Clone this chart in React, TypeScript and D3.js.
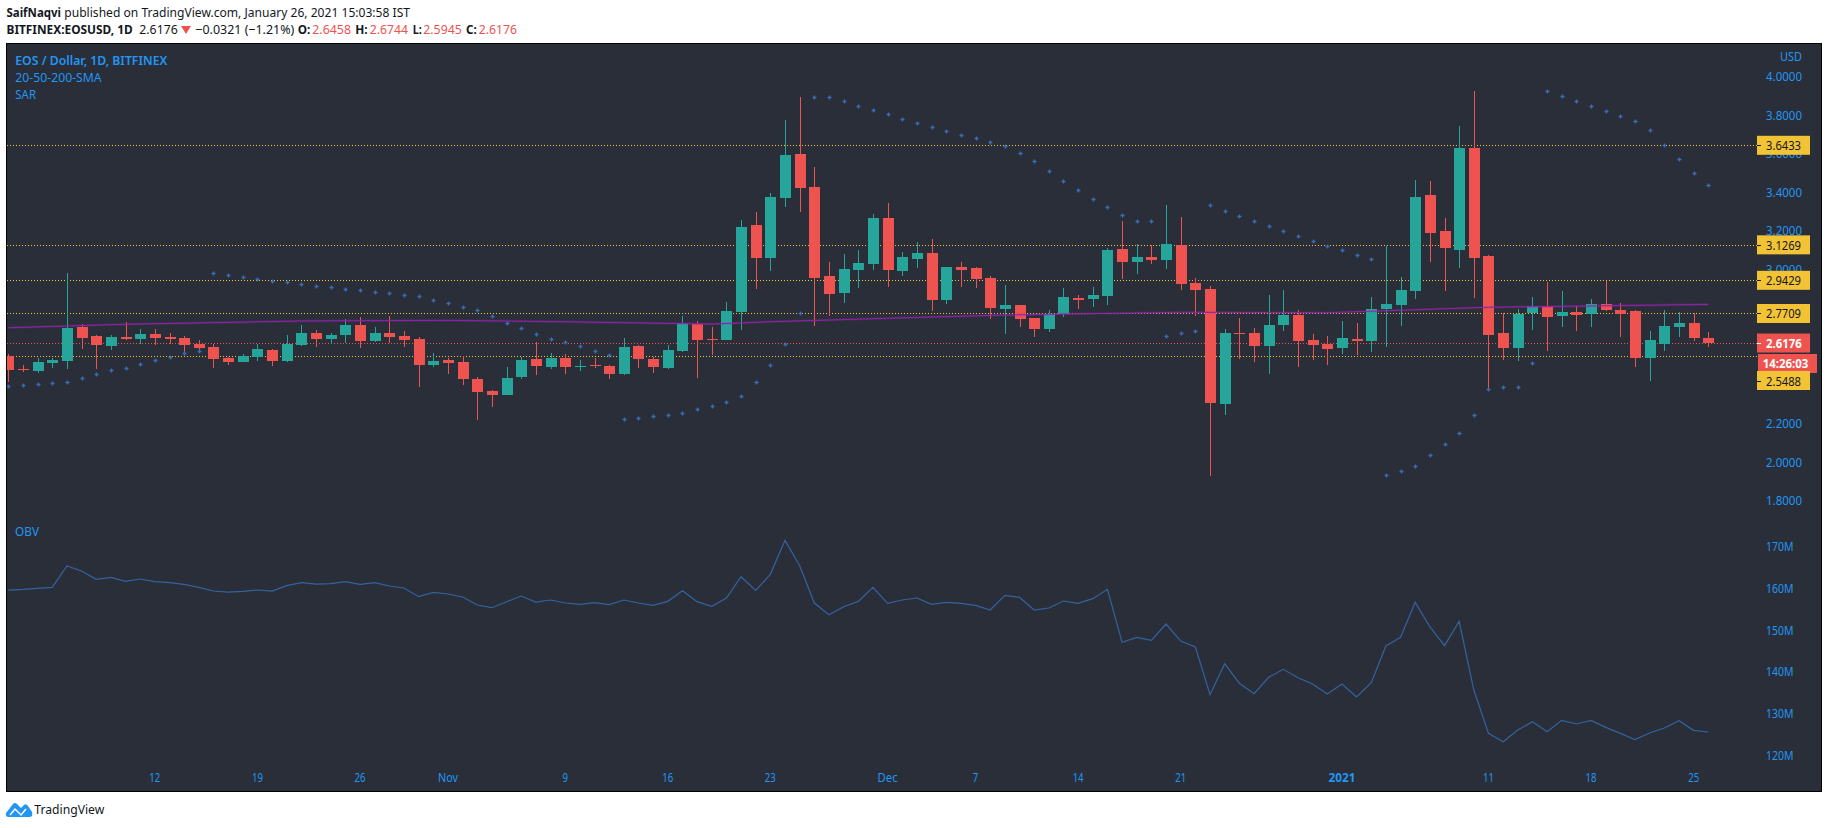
import React from "react";
import * as d3 from "d3";

const opens = [2.550,2.483,2.473,2.514,2.524,2.701,2.654,2.602,2.649,2.639,2.664,2.649,2.644,2.613,2.597,2.540,2.519,2.545,2.581,2.524,2.607,2.670,2.639,2.659,2.711,2.628,2.670,2.654,2.639,2.504,
2.530,2.519,2.431,2.369,2.348,2.442,2.535,2.493,2.540,2.493,2.504,2.499,2.457,2.602,2.535,2.488,2.576,2.716,2.639,2.633,2.779,3.230,3.059,3.370,3.598,3.427,2.965,2.877,2.997,3.028,
3.266,2.991,3.053,3.084,2.841,3.012,3.007,2.955,2.794,2.815,2.747,2.690,2.768,2.851,2.846,2.861,3.105,3.038,3.064,3.048,3.126,2.929,2.898,2.301,2.669,2.669,2.602,2.711,2.763,2.633,
2.613,2.592,2.639,2.628,2.794,2.815,2.888,3.385,3.199,3.100,3.629,3.069,2.670,2.592,2.773,2.810,2.758,2.779,2.768,2.820,2.789,2.784,2.540,2.613,2.701,2.722,2.6458];
const highs = [2.561,2.504,2.538,2.540,2.981,2.716,2.659,2.659,2.727,2.690,2.690,2.670,2.654,2.633,2.613,2.547,2.561,2.613,2.587,2.659,2.711,2.685,2.670,2.742,2.753,2.701,2.758,2.680,2.649,2.566,
2.540,2.550,2.442,2.374,2.493,2.545,2.623,2.566,2.561,2.530,2.540,2.504,2.644,2.607,2.545,2.607,2.758,2.732,2.701,2.831,3.256,3.297,3.396,3.775,3.894,3.531,3.038,3.080,3.100,3.287,
3.344,3.090,3.141,3.157,3.012,3.038,3.012,2.965,2.918,2.815,2.747,2.789,2.903,2.867,2.908,3.110,3.250,3.129,3.126,3.333,3.271,2.955,2.913,2.690,2.747,2.695,2.867,2.892,2.789,2.664,
2.654,2.732,2.722,2.856,3.121,2.960,3.463,3.458,3.266,3.743,3.925,3.074,2.773,2.794,2.856,2.934,2.888,2.810,2.846,2.939,2.825,2.789,2.680,2.789,2.777,2.771,2.6744];
const lows = [2.416,2.467,2.462,2.488,2.483,2.587,2.483,2.581,2.633,2.613,2.607,2.613,2.571,2.576,2.488,2.504,2.519,2.524,2.498,2.519,2.602,2.597,2.613,2.618,2.592,2.623,2.618,2.597,2.390,2.493,
2.457,2.400,2.218,2.286,2.348,2.431,2.452,2.483,2.457,2.473,2.488,2.431,2.452,2.488,2.462,2.483,2.571,2.436,2.556,2.633,2.685,2.898,2.991,3.323,3.297,2.706,2.758,2.825,2.903,2.997,
2.908,2.965,3.007,2.784,2.820,2.908,2.903,2.742,2.664,2.701,2.649,2.675,2.752,2.794,2.804,2.815,2.950,2.975,3.027,3.001,2.892,2.758,1.928,2.244,2.535,2.519,2.457,2.680,2.493,2.529,
2.504,2.561,2.556,2.571,2.597,2.706,2.846,3.038,2.888,3.007,2.851,2.374,2.530,2.524,2.685,2.576,2.701,2.680,2.701,2.784,2.649,2.493,2.421,2.576,2.649,2.628,2.5945];
const closes = [2.478,2.478,2.519,2.530,2.696,2.644,2.607,2.649,2.639,2.664,2.644,2.639,2.607,2.592,2.535,2.519,2.550,2.587,2.524,2.613,2.670,2.639,2.659,2.711,2.628,2.670,2.649,2.633,2.504,2.524,
2.514,2.431,2.364,2.348,2.436,2.530,2.499,2.540,2.493,2.499,2.499,2.457,2.597,2.535,2.493,2.582,2.722,2.633,2.633,2.784,3.220,3.059,3.375,3.593,3.422,2.955,2.872,3.002,3.033,3.266,
2.996,3.064,3.084,2.841,3.012,2.996,2.950,2.799,2.815,2.742,2.690,2.768,2.856,2.841,2.867,3.100,3.038,3.064,3.048,3.131,2.924,2.892,2.306,2.669,2.664,2.602,2.711,2.763,2.628,2.607,
2.587,2.644,2.628,2.794,2.820,2.893,3.375,3.188,3.111,3.629,3.059,2.659,2.592,2.768,2.810,2.753,2.779,2.763,2.820,2.789,2.768,2.540,2.633,2.706,2.722,2.644,2.6176];
const sar = [2.393,2.398,2.403,2.408,2.413,2.434,2.455,2.476,2.486,2.507,2.528,2.543,2.564,2.575,
2.979,2.969,2.958,2.948,2.938,2.932,2.922,2.912,2.906,2.896,2.891,2.881,2.875,2.865,2.860,2.839,2.823,
2.803,2.787,2.756,2.720,2.694,2.663,2.637,2.621,2.600,2.574,2.554,
2.222,2.227,2.237,2.243,2.254,2.274,2.290,2.310,2.341,2.414,2.502,2.611,2.771,
3.892,3.892,3.871,3.845,3.825,
3.804,3.778,3.757,3.736,3.716,3.695,3.679,3.659,3.638,3.602,3.560,3.508,3.456,
3.409,3.363,3.321,3.280,3.249,3.249,
2.652,2.668,2.678,
3.332,3.300,3.274,3.249,3.223,3.197,3.171,3.145,3.119,3.098,3.072,3.052,
1.931,1.952,1.978,2.035,2.092,2.149,2.242,2.377,2.388,2.388,2.512,
3.923,3.897,3.871,3.845,3.819,3.794,3.768,3.721,3.643,3.570,3.498,3.436];
const smaIdx = [0,8,20,30,36,43,48,52,60,67,72,80,90,101,116];
const smaVal = [2.697,2.715,2.732,2.735,2.730,2.722,2.716,2.728,2.746,2.761,2.768,2.777,2.775,2.803,2.818];
const obv = [159.6,159.76,160.0,160.24,165.36,164.16,162.16,162.64,161.68,162.24,161.6,161.36,160.96,160.24,159.36,159.12,159.28,159.6,159.36,160.64,161.36,161.04,161.12,161.6,160.96,161.36,160.56,160.08,158.0,159.04,
158.64,157.92,156.0,155.36,156.8,158.16,156.72,157.2,156.48,156.16,156.56,156.08,157.2,156.48,155.92,156.88,159.44,156.8,155.68,157.68,162.8,159.52,163.36,171.52,165.44,156.48,153.68,155.6,156.88,160.24,156.4,
157.2,157.68,156.16,156.64,156.4,155.92,154.8,158.32,157.84,154.8,155.28,156.96,156.4,157.52,159.76,147.04,148.24,147.52,151.44,147.36,145.92,134.48,141.92,137.2,134.72,138.64,140.56,138.56,137.04,134.64,137.04,133.92,137.36,146.16,148.24,156.64,150.8,146.24,152.08,135.6,125.2,123.2,126.0,128.0,125.6,128.32,127.44,128.32,126.64,125.2,123.68,125.28,126.48,128.24,125.92,125.52];

const priceTicks = [4.0, 3.8, 3.6, 3.4, 3.2, 3.0, 2.2, 2.0, 1.8];
const obvTicks = [170, 160, 150, 140, 130, 120];
const levels = [3.6433, 3.1269, 2.9429, 2.7709, 2.5488];
const lastPrice = 2.6176;
const dateIdx = [10, 17, 24, 30, 38, 45, 52, 60, 66, 73, 80, 91, 101, 108, 115];
const dateLabels = ["12", "19", "26", "Nov", "9", "16", "23", "Dec", "7", "14", "21", "2021", "11", "18", "25"];

const BLUE = "#2196f3", RED = "#ef5350", GREEN = "#26a69a", YEL = "#f7c52b", BG = "#2a2e39", DARK = "#131722";
const TAG = "#f2c335";
const FF = "'Noto Sans', sans-serif";

const L = 7, R = 1821, T = 44, B = 791;
const x = d3.scaleLinear().domain([0, 116]).range([8.3, 1708.3]);
const y = d3.scaleLinear().domain([2.5488, 3.6433]).range([356.3, 145.3]);
const yObv = d3.scaleLinear().domain([120, 170]).range([755, 546.7]);

const smaLine = d3.line<number>().x((_, i) => x(smaIdx[i])).y((d) => y(d));
const obvLine = d3.line<number>().x((_, i) => x(i)).y((d) => yObv(d));
const cross = d3.symbol(d3.symbolCross, 9)() as string;

const tagY = (v: number) => (v === 2.5488 ? 380.5 : y(v));
const dateWidth = (s: string) => (s === "2021" ? 27 : /^\d+$/.test(s) ? s.length * 5.5 : 20);

function T_({ s, xx, yy, w, fill = DARK, weight = 400, size = 13 }: any) {
  return (
    <text x={xx} y={yy} fill={fill} fontWeight={weight} fontSize={size} fontFamily={FF}
      textLength={w} lengthAdjust="spacingAndGlyphs">{s}</text>
  );
}

function Header() {
  return (
    <g>
      <T_ s="SaifNaqvi" xx={6.5} yy={17} w={54.5} weight={700} />
      <T_ s="published on TradingView.com, January 26, 2021 15:03:58 IST" xx={64.3} yy={17} w={345.7} />
      <T_ s="BITFINEX:EOSUSD, 1D" xx={6.5} yy={34} w={126.2} weight={700} />
      <T_ s="2.6176" xx={139.3} yy={34} w={38.4} />
      <path d="M181 26H191L186 34Z" fill={RED} />
      <T_ s="−0.0321 (−1.21%)" xx={195.3} yy={34} w={99} />
      <T_ s="O:" xx={297.7} yy={34} w={12.6} weight={700} />
      <T_ s="2.6458" xx={312.3} yy={34} w={38.7} fill={RED} />
      <T_ s="H:" xx={355.3} yy={34} w={12.4} weight={700} />
      <T_ s="2.6744" xx={369.7} yy={34} w={38.3} fill={RED} />
      <T_ s="L:" xx={412.7} yy={34} w={9} weight={700} />
      <T_ s="2.5945" xx={423.3} yy={34} w={38.4} fill={RED} />
      <T_ s="C:" xx={466} yy={34} w={10.7} weight={700} />
      <T_ s="2.6176" xx={478.7} yy={34} w={38.3} fill={RED} />
    </g>
  );
}

export default function App() {
  return (
    <svg width={1828} height={828} style={{ position: "absolute", left: 0, top: 0, background: "#fff" }}>
      <defs>
        <clipPath id="pane"><rect x={L} y={T} width={R - L} height={B - T} /></clipPath>
      </defs>
      <Header />
      <rect x={L - 0.5} y={T - 0.5} width={R - L + 1} height={B - T + 1} fill={BG} stroke="#000" />

      <g clipPath="url(#pane)">
        {levels.map((v) => (
          <line key={v} x1={L} x2={1757} y1={Math.round(y(v)) + 0.5} y2={Math.round(y(v)) + 0.5}
            stroke={YEL} strokeDasharray="1 2" shapeRendering="crispEdges" />
        ))}
        <line x1={L} x2={1757} y1={Math.round(y(lastPrice)) + 0.5} y2={Math.round(y(lastPrice)) + 0.5}
          stroke={RED} strokeDasharray="1 2" shapeRendering="crispEdges" />

        {opens.map((o, i) => {
          const c = closes[i];
          const col = c >= o ? GREEN : RED;
          const cx = Math.round(x(i));
          const top = Math.round(y(Math.max(o, c)));
          const bot = Math.round(y(Math.min(o, c)));
          return (
            <g key={i} shapeRendering="crispEdges">
              <rect x={cx} y={y(highs[i])} width={1} height={y(lows[i]) - y(highs[i])} fill={col} />
              <rect x={cx - 5} y={top} width={11} height={Math.max(1, bot - top)} fill={col} />
            </g>
          );
        })}

        <path d={smaLine(smaVal) ?? ""} fill="none" stroke="#9c27b0" strokeOpacity={0.22} strokeWidth={2.6} />
        <path d={smaLine(smaVal) ?? ""} fill="none" stroke="#8e24aa" strokeWidth={1} />

        {sar.map((v, i) => (
          <path key={i} d={cross} transform={`translate(${Math.round(x(i)) + 0.5},${Math.round(y(v)) + 0.5})`} fill="#3a6db3" />
        ))}

        <path d={obvLine(obv) ?? ""} fill="none" stroke="#33639f" strokeWidth={1.2} />
      </g>

      <g fontFamily={FF} fontSize={13}>
        <T_ s="EOS / Dollar, 1D, BITFINEX" xx={15.3} yy={65} w={152} fill={BLUE} weight={600} />
        <T_ s="20-50-200-SMA" xx={15.3} yy={82} w={86.4} fill={BLUE} />
        <T_ s="SAR" xx={15.3} yy={99} w={20.7} fill={BLUE} />
        <T_ s="OBV" xx={15} yy={536} w={24} fill={BLUE} />
        <T_ s="USD" xx={1780} yy={61} w={22} fill={BLUE} size={12} />

        {priceTicks.map((v) => (
          <T_ key={v} s={v.toFixed(4)} xx={1766} yy={y(v) + 4.5} w={36} fill={BLUE} />
        ))}
        {obvTicks.map((v) => (
          <T_ key={v} s={`${v}M`} xx={1766} yy={yObv(v) + 4.5} w={27.5} fill={BLUE} />
        ))}
        {dateIdx.map((d, i) => (
          <T_ key={d} s={dateLabels[i]} xx={x(d) - dateWidth(dateLabels[i]) / 2} yy={782}
            w={dateWidth(dateLabels[i])} fill={BLUE} weight={dateLabels[i] === "2021" ? 700 : 400} />
        ))}

        <rect x={1758} y={354} width={59} height={19} fill={RED} />
        <T_ s="14:26:03" xx={1762.7} yy={368} w={45.7} fill="#fff" weight={700} />

        <rect x={1757} y={y(lastPrice) - 9.5} width={53} height={19} fill={RED} />
        <rect x={1757} y={Math.round(y(lastPrice))} width={4} height={1} fill="#fff" />
        <T_ s={lastPrice.toFixed(4)} xx={1766} yy={y(lastPrice) + 5} w={35.7} fill="#fff" weight={700} />

        {levels.map((v) => (
          <g key={v}>
            <rect x={1757} y={tagY(v) - 9.5} width={53} height={19} fill={TAG} />
            <rect x={1757} y={Math.round(tagY(v))} width={4} height={1} fill={DARK} />
            <T_ s={v.toFixed(4)} xx={1766} yy={tagY(v) + 5} w={35} />
          </g>
        ))}
      </g>

      <g>
        <path d="M6 813L13 804Q15 802 17 804L21 808L24 805Q26 803 28 806L32 812Q33.5 817 29 817L9 817Q5 817 6 813Z" fill="#2196f3" />
        <path d="M10 815L15 809L21 815L26 809" fill="none" stroke="#fff" strokeWidth={1.5} />
        <T_ s="TradingView" xx={34.3} yy={814} w={70} />
      </g>
    </svg>
  );
}
